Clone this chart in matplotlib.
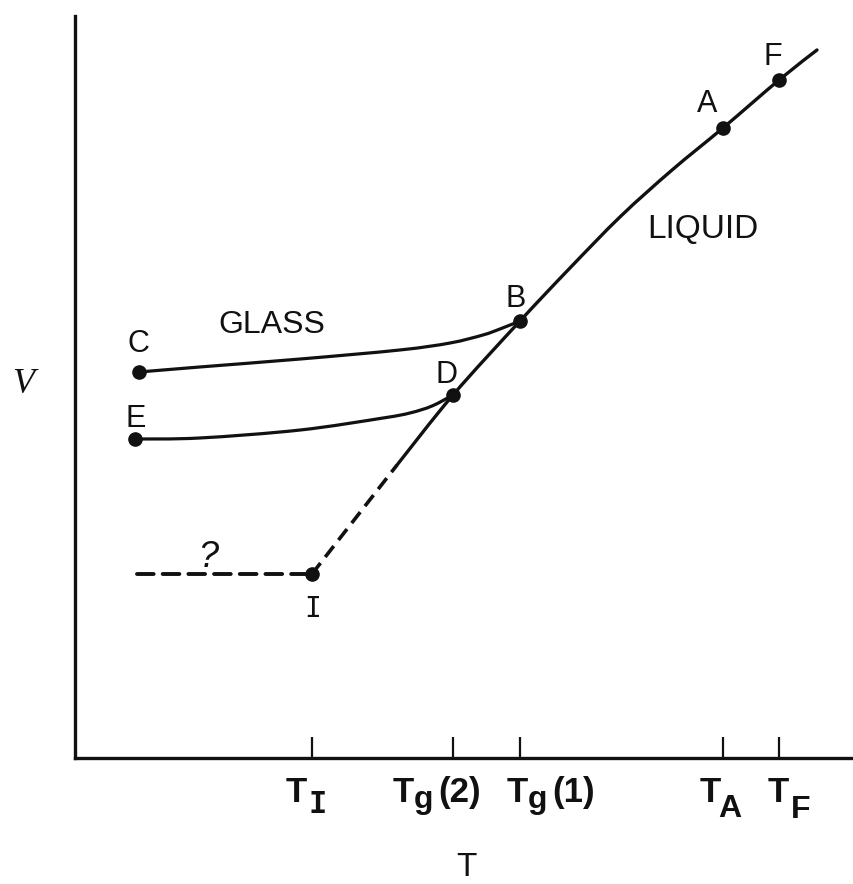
import matplotlib
matplotlib.use("Agg")
import matplotlib.pyplot as plt
from matplotlib.path import Path
from matplotlib.patches import PathPatch

# ---- data (T and V in arbitrary units, 0-100) ----
# Equilibrium liquid line (solid part) and its supercooled extension down to I
liquid_T = [41.34, 48.52, 57.12, 63.54, 70.09, 76.64, 83.18, 90.37, 95.25]
liquid_V = [39.49, 48.92, 58.89, 66.04, 73.05, 79.24, 84.91, 91.37, 95.42]
supercooled_T = [30.42, 41.34]
supercooled_V = [24.80, 39.49]

# Glass branches: C-B (fast cooling) and E-D (slow cooling)
glass1_T = [8.22, 16.05, 28.88, 41.72, 48.14, 52.37, 54.56, 57.12]
glass1_V = [52.02, 52.70, 53.77, 54.99, 55.93, 57.01, 57.82, 58.89]
glass2_T = [7.70, 16.05, 28.88, 39.54, 43.00, 45.83, 48.52]
glass2_V = [42.99, 43.13, 44.20, 45.82, 46.50, 47.44, 48.92]

# Unknown path below the ideal glass point I
unknown_T = [7.96, 30.42]
unknown_V = [24.80, 24.80]

# Labelled states
point_names = ["A", "B", "C", "D", "E", "F", "I"]
point_T = [83.18, 57.12, 8.22, 48.52, 7.70, 90.37, 30.42]
point_V = [84.91, 58.89, 52.02, 48.92, 42.99, 91.37, 24.80]

# Temperature axis ticks
tick_T = [30.42, 48.52, 57.12, 83.18, 90.37]
tick_main = ["T", "T", "T", "T", "T"]
tick_sub = ["I", "g", "g", "A", "F"]
tick_tail = ["", "(2)", "(1)", "", ""]

# ---- figure ----
W, H = 854, 884
fig = plt.figure(figsize=(W / 100, H / 100), dpi=100)
ax = fig.add_axes([75 / W, (H - 758) / H, 779 / W, 742 / H])
ax.set_xlim(0, 100)
ax.set_ylim(0, 100)

plt.rcParams["lines.scale_dashes"] = False
SANS = "Liberation Sans"
MONO = "DejaVu Sans Mono"
INK = "#111111"

for side in ("top", "right"):
    ax.spines[side].set_visible(False)
for side in ("left", "bottom"):
    ax.spines[side].set_linewidth(2.4)
    ax.spines[side].set_color(INK)
    ax.spines[side].set_capstyle("projecting")

ax.set_yticks([])
ax.set_xticks(tick_T)
ax.tick_params(axis="x", direction="in", length=15, width=1.6, color=INK,
               labelbottom=False)


def smooth_curve(xs, ys, lw):
    """Draw a smooth (Catmull-Rom style Bezier) curve through the points."""
    pts = list(zip(xs, ys))
    n = len(pts)
    verts = [pts[0]]
    codes = [Path.MOVETO]
    for i in range(n - 1):
        p0 = pts[max(i - 1, 0)]
        p1 = pts[i]
        p2 = pts[i + 1]
        p3 = pts[min(i + 2, n - 1)]
        c1 = (p1[0] + (p2[0] - p0[0]) / 6, p1[1] + (p2[1] - p0[1]) / 6)
        c2 = (p2[0] - (p3[0] - p1[0]) / 6, p2[1] - (p3[1] - p1[1]) / 6)
        verts += [c1, c2, p2]
        codes += [Path.CURVE4] * 3
    patch = PathPatch(Path(verts, codes), fill=False, edgecolor=INK, lw=lw,
                      capstyle="round", joinstyle="round", clip_on=False)
    ax.add_patch(patch)


smooth_curve(liquid_T, liquid_V, 2.4)
smooth_curve(glass1_T, glass1_V, 2.3)
smooth_curve(glass2_T, glass2_V, 2.3)
ax.plot(supercooled_T, supercooled_V, lw=2.6, color=INK,
        linestyle=(0, (10, 5.5)), dash_capstyle="butt", clip_on=False)
ax.plot(unknown_T, unknown_V, lw=2.8, color=INK,
        linestyle=(0, (12, 6.5)), dash_capstyle="round", clip_on=False)

ax.plot(point_T, point_V, "o", ms=9.5, color=INK, clip_on=False, zorder=5)

# letter offsets (pixels) from each state point: centre-x, baseline
label_offset = {"A": (-16, 16), "B": (-4, 14), "C": (-1, 20), "D": (-6, 12),
                "E": (1, 12), "F": (-6, 15), "I": (1, -43)}
for name, t, v in zip(point_names, point_T, point_V):
    dx, dy = label_offset[name]
    fam = MONO if name == "I" else SANS
    size = 20 if name == "I" else 22
    ax.annotate(name, (t, v), xytext=(dx, dy), textcoords="offset pixels",
                ha="center", va="baseline", fontsize=size, family=fam,
                color=INK)

ax.text(25.3, 57.3, "GLASS", ha="center", va="baseline", fontsize=23,
        family=SANS, color=INK)
ax.text(80.6, 70.1, "LIQUID", ha="center", va="baseline", fontsize=24,
        family=SANS, color=INK)
ax.text(17.1, 25.7, "?", ha="center", va="baseline", fontsize=26,
        family=SANS, style="italic", color=INK)

# composite tick labels: main letter, dropped subscript, trailing text
renderer = fig.canvas.get_renderer()
left_shift = [-26, -60, -13, -23, -11]
sub_drop = [11, 6, 6, 15, 16]
sub_gap = [1, 0, 0, -3, 2]
base_y = H - 802
for t, m, s, tail, sh, dr, gp in zip(tick_T, tick_main, tick_sub, tick_tail,
                                     left_shift, sub_drop, sub_gap):
    x0 = ax.transData.transform((t, 0))[0] + sh
    txt = fig.text(x0 / W, base_y / H, m, ha="left", va="baseline",
                   fontsize=25, family=SANS, weight="bold", color=INK)
    x1 = txt.get_window_extent(renderer).x1 + gp
    fam = MONO if s == "I" else SANS
    sub = fig.text(x1 / W, (base_y - dr) / H, s, ha="left", va="baseline",
                   fontsize=23 if s != "I" else 22, family=fam, weight="bold",
                   color=INK)
    if tail:
        x2 = sub.get_window_extent(renderer).x1 + 5
        fig.text(x2 / W, base_y / H, tail, ha="left", va="baseline",
                 fontsize=25, family=SANS, weight="bold", color=INK)

# axis titles
fig.text(466 / W, (H - 876) / H, "T", ha="center", va="baseline",
         fontsize=24, family=SANS, color=INK)
fig.text(23 / W, (H - 393) / H, "V", ha="center", va="baseline",
         fontsize=26, family="Liberation Serif", style="italic", color=INK)

fig.savefig("out.png", dpi=100)
